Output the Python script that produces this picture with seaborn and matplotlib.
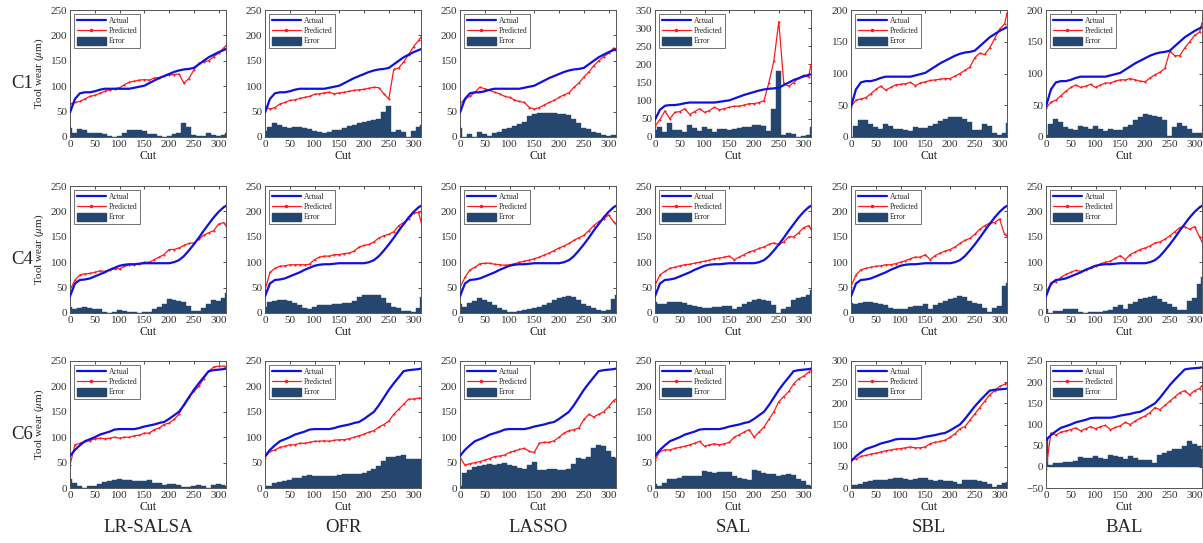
import numpy as np
import pandas as pd
import matplotlib
matplotlib.use("Agg")
import matplotlib.pyplot as plt
import seaborn as sns
from matplotlib.lines import Line2D
from matplotlib.patches import Patch

CUTS = [0, 10, 20, 30, 40, 50, 60, 70, 80, 90, 100, 110, 120, 130, 140, 150, 160,
        170, 180, 190, 200, 210, 220, 230, 240, 250, 260, 270, 280, 290, 300, 310, 315]

CASES = ["C1", "C4", "C6"]
METHODS = ["LR-SALSA", "OFR", "LASSO", "SAL", "SBL", "BAL"]

ACTUAL_C1 = [48, 75, 86, 88, 88, 90, 93, 95, 95, 95, 95, 95, 95, 97, 99, 101, 106,
             111, 116, 120, 124, 128, 131, 133, 134, 136, 143, 150, 157, 162, 167, 171, 173]
ACTUAL_C4 = [33, 58, 65, 66, 68, 72, 76, 80, 85, 89, 93, 95, 96, 96, 97, 98, 98,
             98, 98, 98, 98, 100, 104, 112, 123, 135, 148, 162, 175, 188, 199, 208, 211]
ACTUAL_C6 = [63, 75, 84, 92, 96, 100, 105, 108, 111, 115, 116, 116, 116, 116, 118, 121, 123,
             125, 128, 130, 136, 143, 150, 163, 178, 193, 206, 218, 230, 232, 233, 234, 235]

# C1 predictions
PRED_C1_LRSALSA = [65, 68, 70, 75, 80, 82, 86, 90, 93, 95, 97, 103, 108, 110, 112, 113, 112,
                   116, 117, 120, 122, 123, 124, 106, 115, 132, 145, 148, 150, 158, 165, 175, 180]
PRED_C1_OFR = [60, 55, 58, 65, 68, 72, 73, 76, 78, 80, 84, 85, 87, 88, 85, 87, 88,
               90, 92, 93, 94, 96, 98, 97, 85, 75, 133, 136, 148, 162, 178, 190, 197]
PRED_C1_LASSO = [65, 75, 80, 88, 98, 95, 92, 88, 85, 80, 78, 73, 70, 68, 58, 55, 58,
                 63, 68, 72, 78, 83, 87, 98, 106, 118, 128, 140, 150, 158, 165, 175, 170]
PRED_C1_SAL = [30, 48, 72, 50, 68, 70, 78, 62, 70, 78, 68, 73, 82, 75, 78, 82, 85,
               85, 88, 92, 92, 95, 100, 150, 210, 318, 148, 140, 150, 162, 170, 165, 200]
PRED_C1_SBL = [48, 58, 60, 62, 68, 75, 80, 74, 78, 82, 83, 84, 86, 81, 85, 87, 89,
               90, 91, 92, 92, 96, 100, 105, 110, 125, 132, 130, 140, 155, 170, 178, 195]
PRED_C1_BAL = [45, 55, 58, 65, 72, 78, 82, 78, 80, 83, 78, 82, 85, 85, 88, 90, 90,
               92, 90, 88, 87, 93, 98, 102, 108, 135, 128, 128, 140, 150, 160, 165, 180]

# C4 predictions
PRED_C4_LRSALSA = [45, 65, 75, 77, 78, 80, 83, 82, 85, 87, 87, 92, 95, 95, 97, 100, 100,
                   105, 110, 115, 125, 125, 128, 133, 137, 138, 145, 153, 158, 162, 175, 178, 172]
PRED_C4_OFR = [45, 80, 88, 92, 93, 95, 95, 95, 95, 96, 105, 110, 112, 112, 115, 115, 117,
               118, 122, 130, 133, 135, 140, 148, 152, 155, 160, 172, 178, 185, 197, 198, 180]
PRED_C4_LASSO = [50, 70, 85, 90, 97, 98, 98, 96, 95, 94, 95, 97, 100, 102, 104, 107, 110,
                 114, 118, 123, 128, 132, 137, 143, 148, 153, 162, 172, 180, 185, 193, 180, 175]
PRED_C4_SAL = [55, 75, 82, 88, 90, 93, 95, 96, 98, 100, 102, 104, 107, 108, 110, 112, 105,
               110, 115, 120, 123, 127, 130, 135, 138, 135, 140, 150, 150, 158, 168, 172, 165]
PRED_C4_SBL = [52, 75, 85, 88, 90, 92, 93, 95, 95, 97, 100, 103, 107, 110, 110, 115, 105,
               113, 118, 122, 125, 130, 137, 143, 147, 155, 165, 172, 177, 178, 185, 155, 152]
PRED_C4_BAL = [40, 58, 62, 70, 76, 80, 84, 82, 85, 88, 92, 97, 100, 102, 108, 113, 105,
               115, 120, 125, 128, 132, 138, 140, 145, 152, 160, 168, 170, 165, 170, 150, 140]

# C6 predictions
PRED_C6_LRSALSA = [45, 85, 88, 92, 93, 97, 98, 97, 98, 100, 98, 100, 100, 103, 104, 108, 108,
                   115, 118, 125, 128, 135, 145, 165, 180, 190, 200, 215, 230, 238, 240, 240, 238]
PRED_C6_OFR = [60, 72, 75, 80, 82, 85, 85, 88, 88, 90, 92, 92, 93, 92, 94, 95, 95,
               97, 100, 103, 106, 110, 113, 120, 125, 132, 145, 155, 165, 175, 175, 177, 177]
PRED_C6_LASSO = [60, 45, 48, 50, 52, 55, 58, 62, 63, 65, 70, 73, 76, 78, 72, 70, 88,
                 90, 90, 93, 100, 108, 113, 115, 118, 135, 145, 140, 145, 150, 160, 172, 175]
PRED_C6_SAL = [55, 72, 75, 75, 78, 80, 82, 85, 88, 92, 82, 85, 87, 85, 87, 90, 100,
               105, 110, 115, 100, 110, 120, 135, 150, 170, 180, 190, 205, 215, 220, 228, 232]
PRED_C6_SBL = [70, 68, 75, 77, 80, 82, 85, 88, 90, 92, 93, 95, 97, 95, 95, 97, 105,
               108, 110, 113, 120, 128, 140, 145, 160, 175, 190, 205, 220, 230, 240, 245, 248]
PRED_C6_BAL = [-5, 80, 75, 82, 85, 88, 92, 85, 90, 95, 90, 95, 98, 88, 93, 97, 105,
               100, 108, 115, 120, 128, 140, 135, 145, 155, 165, 175, 180, 170, 180, 185, 192]

ACTUAL = {"C1": ACTUAL_C1, "C4": ACTUAL_C4, "C6": ACTUAL_C6}
PRED = {
    "C1": [PRED_C1_LRSALSA, PRED_C1_OFR, PRED_C1_LASSO, PRED_C1_SAL, PRED_C1_SBL, PRED_C1_BAL],
    "C4": [PRED_C4_LRSALSA, PRED_C4_OFR, PRED_C4_LASSO, PRED_C4_SAL, PRED_C4_SBL, PRED_C4_BAL],
    "C6": [PRED_C6_LRSALSA, PRED_C6_OFR, PRED_C6_LASSO, PRED_C6_SAL, PRED_C6_SBL, PRED_C6_BAL],
}

# per-panel y ranges (layout)
YLIMS = {
    ("C1", "SAL"): (0, 350, 50), ("C1", "SBL"): (0, 200, 50), ("C1", "BAL"): (0, 200, 50),
    ("C6", "SBL"): (0, 300, 50), ("C6", "BAL"): (-50, 250, 50),
}

# ---------------- style ----------------
sns.set_theme(style="white")
plt.rcParams["font.family"] = ["Liberation Serif", "DejaVu Serif"]
plt.rcParams["mathtext.fontset"] = "stix"

C_ACT = "#1010e0"
C_PRED = "#ff1a1a"
C_ERR = "#24466f"

W, H = 1203, 543
fig = plt.figure(figsize=(W / 100, H / 100), dpi=100)

col_left = [70, 265, 460, 655, 851, 1046]
row_top = [10, 186, 361]
aw, ah = 156, 127

cuts = np.array(CUTS, dtype=float)
edges = np.concatenate([[0], (cuts[:-1] + cuts[1:]) / 2, [315]])
widths = np.diff(edges)

for r, case in enumerate(CASES):
    act = np.array(ACTUAL[case], dtype=float)
    for c, method in enumerate(METHODS):
        pred = np.array(PRED[case][c], dtype=float)
        err = np.abs(act - pred)
        ax = fig.add_axes([col_left[c] / W, 1 - (row_top[r] + ah) / H, aw / W, ah / H])
        df = pd.DataFrame({"cut": cuts, "actual": act, "pred": pred, "err": err})

        ax.bar(edges[:-1], err, width=widths, align="edge", color=C_ERR,
               edgecolor=C_ERR, linewidth=0.3, zorder=1)
        sns.lineplot(data=df, x="cut", y="actual", ax=ax, color=C_ACT, linewidth=1.6,
                     sort=False, zorder=3)
        sns.lineplot(data=df, x="cut", y="pred", ax=ax, color=C_PRED, linewidth=0.9,
                     marker=".", markersize=3, markeredgewidth=0, sort=False, zorder=2)

        y0, y1, step = YLIMS.get((case, method), (0, 250, 50))
        ax.set_xlim(0, 315)
        ax.set_ylim(y0, y1)
        ax.set_xticks(np.arange(0, 301, 50))
        ax.set_yticks(np.arange(y0, y1 + 1, step))
        ax.tick_params(direction="in", length=2.5, width=0.6, labelsize=8,
                       top=True, right=True, colors="#333333", pad=2)
        for s in ax.spines.values():
            s.set_color("#555555")
            s.set_linewidth(0.7)
        ax.set_xlabel("Cut", fontsize=8.5, labelpad=1, color="#222222")
        if c == 0:
            ax.set_ylabel(r"Tool wear ($\mu$m)", fontsize=8, labelpad=3, color="#222222")
        else:
            ax.set_ylabel("")

        handles = [Line2D([0], [0], color=C_ACT, lw=1.6),
                   Line2D([0], [0], color=C_PRED, lw=0.9, marker=".", markersize=3),
                   Patch(facecolor=C_ERR, edgecolor=C_ERR)]
        leg = ax.legend(handles, ["Actual", "Predicted", "Error"], loc="upper left",
                        fontsize=5.5, frameon=True, fancybox=False, edgecolor="#333333",
                        handlelength=3.8, handleheight=1.1, labelspacing=0.25,
                        borderpad=0.35, borderaxespad=0.55, handletextpad=0.4)
        leg.get_frame().set_linewidth(0.6)

# row labels
for r, case in enumerate(CASES):
    fig.text(22 / W, 1 - (row_top[r] + ah / 2 + 10) / H, case, fontsize=13.5,
             ha="center", va="center")

# column labels
for c, method in enumerate(METHODS):
    fig.text((col_left[c] + aw / 2) / W, 1 - 527 / H, method, fontsize=13.5,
             ha="center", va="center")

fig.savefig("out.png", dpi=100)
